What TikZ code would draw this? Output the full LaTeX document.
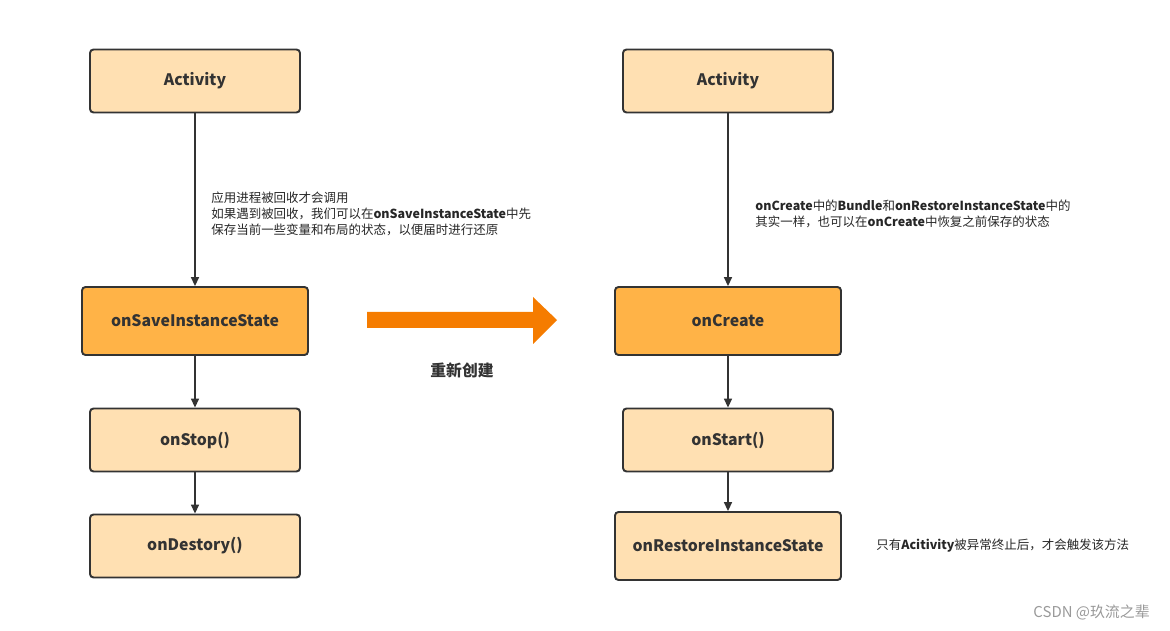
\documentclass[tikz,border=0pt]{standalone}
\usepackage{fontspec}
\setmainfont{Noto Sans CJK SC}
\usepackage{tikz}
\usetikzlibrary{arrows.meta}

\definecolor{boxlight}{RGB}{255,224,178}
\definecolor{boxdark}{RGB}{255,179,71}
\definecolor{edge}{RGB}{51,51,51}
\definecolor{bigarrow}{RGB}{245,124,0}

\begin{document}
\begin{tikzpicture}[
	lightbox/.style={draw=edge, line width=1.1pt, rounded corners=2pt, fill=boxlight,
		minimum width=4.2cm, minimum height=1.26cm, font=\fontsize{9}{11}\selectfont\bfseries, text=edge},
	darkbox/.style={lightbox, fill=boxdark, minimum width=4.52cm, minimum height=1.36cm},
	flow/.style={draw=edge, line width=0.8pt, -{Triangle[length=5pt,width=4.5pt]}},
	note/.style={align=left, anchor=west, inner sep=0pt, text=black!85, font=\fontsize{7.1}{9.1}\selectfont}]
	\useasboundingbox (0,0) rectangle (23.4,-12.62);

	% left column
	\node[lightbox] (actA) at (3.9,-1.62) {Activity};
	\node[darkbox] (save) at (3.9,-6.42) {onSaveInstanceState};
	\node[lightbox] (stop) at (3.9,-8.8) {onStop()};
	\node[lightbox] (destory) at (3.9,-10.92) {onDestory()};
	\draw[flow] (actA) -- (save);
	\draw[flow] (save) -- (stop);
	\draw[flow] (stop) -- (destory);
	\node[note] (savenote) at (4.22,-4.28) {应用进程被回收才会调用\\如果遇到被回收，我们可以在\textbf{onSaveInstanceState}中先\\保存当前一些变量和布局的状态，以便届时进行还原};

	% right column
	\node[lightbox] (actB) at (14.56,-1.62) {Activity};
	\node[darkbox] (create) at (14.56,-6.42) {onCreate};
	\node[lightbox] (start) at (14.56,-8.8) {onStart()};
	\node[darkbox, fill=boxlight] (restore) at (14.56,-10.92) {onRestoreInstanceState};
	\draw[flow] (actB) -- (create);
	\draw[flow] (create) -- (start);
	\draw[flow] (start) -- (restore);
	\node[note] (createnote) at (15.1,-4.28) {\textbf{onCreate}中的\textbf{Bundle}和\textbf{onRestoreInstanceState}中的\\其实一样，也可以在\textbf{onCreate}中恢复之前保存的状态};
	\node[note] (restorenote) at (17.52,-10.92) {只有\textbf{Acitivity}被异常终止后，才会触发该方法};

	% recreate arrow
	\fill[bigarrow] (7.34,-6.24) -- (10.66,-6.24) -- (10.66,-5.94) -- (11.14,-6.4)
		-- (10.66,-6.88) -- (10.66,-6.56) -- (7.34,-6.56) -- cycle;
	\node[text=edge, font=\fontsize{9}{11}\selectfont\bfseries] (recreate) at (9.24,-7.4) {重新创建};

	% watermark
	\node[anchor=east, text=black!40, font=\fontsize{8.5}{10}\selectfont] (mark) at (23.12,-12.24) {CSDN @玖流之辈};
\end{tikzpicture}
\end{document}
